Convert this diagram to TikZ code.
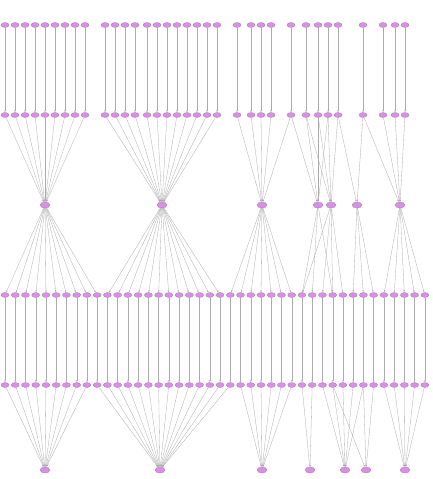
\documentclass[tikz,border=0pt]{standalone}
\usepackage{tikz}
\usetikzlibrary{shapes.geometric, arrows.meta, backgrounds}
\definecolor{nodepink}{HTML}{D890E4}
\definecolor{edgegray}{HTML}{ABABAB}

\begin{document}
\begin{tikzpicture}[x=1pt, y=-1pt,
			gene/.style={draw=nodepink!80!black, fill=nodepink, ellipse, minimum width=8pt, minimum height=5pt, inner sep=0pt, line width=0.3pt},
			hub/.style={gene, minimum width=10pt, minimum height=6pt},
			link/.style={-{Latex[length=2pt, width=1.5pt]}, draw=edgegray, line width=0.3pt}
			]
			\useasboundingbox (0,0) rectangle (432,479);
			
			% Hubs (linha 3 e linha 6)
			\foreach \x [count=\h] in {45,162,262,318,331,357,400}
				\node[hub] (mid\h) at (\x,205) {};
			\foreach \x [count=\h] in {45,160,262,310,345,366,405}
				\node[hub] (sink\h) at (\x,470) {};
			
			% Linhas 1 e 2
			\foreach \x/\h [count=\i] in {5/1,15/1,25/1,35/1,45/1,55/1,65/1,75/1,85/1,105/2,115/2,125/2,135/2,147/2,157/2,167/2,177/2,187/2,197/2,207/2,217/2,237/3,251/3,261/3,271/3,291/3,306/4,318/4,328/5,338/5,363/6,383/7,395/7,405/7} {
				\node[gene] (src\i) at (\x,25) {};
				\node[gene] (up\i) at (\x,115) {};
				\begin{scope}[on background layer]
					\draw[link] (src\i) -- (up\i);
					\draw[link] (up\i) -- (mid\h);
				\end{scope}
			}
			% ligacoes cruzadas
			\begin{scope}[on background layer]
				\draw[link] (up26) -- (mid4);
				\draw[link] (up27) -- (mid5);
				\draw[link] (up28) -- (mid5);
				\draw[link] (up29) -- (mid4);
				\draw[link] (up30) -- (mid6);
				\draw[link] (up31) -- (mid7);
			\end{scope}
			
			% Linhas 4 e 5
			\foreach \h/\s [count=\i] in {1/1,1/1,1/1,1/1,1/1,1/1,1/1,1/1,1/1,1/2,2/2,2/2,2/2,2/2,2/2,2/2,2/2,2/2,2/2,2/2,2/2,2/2,3/2,3/3,3/3,3/3,3/3,3/3,3/3,4/4,4/4,5/5,5/5,5/5,6/5,6/6,6/6,7/7,7/7,7/7,7/7,7/7} {
				\pgfmathsetmacro{\xx}{5+10.24*(\i-1)}
				\node[gene] (low\i) at (\xx,295) {};
				\node[gene] (out\i) at (\xx,385) {};
				\begin{scope}[on background layer]
					\draw[link] (mid\h) -- (low\i);
					\draw[link] (low\i) -- (out\i);
					\draw[link] (out\i) -- (sink\s);
				\end{scope}
			}
			% ligacoes cruzadas embaixo
			\begin{scope}[on background layer]
				\draw[link] (mid4) -- (low33);
				\draw[link] (mid5) -- (low30);
				\draw[link] (out33) -- (sink6);
				\draw[link] (out36) -- (sink5);
			\end{scope}
			
		\end{tikzpicture}
\end{document}
